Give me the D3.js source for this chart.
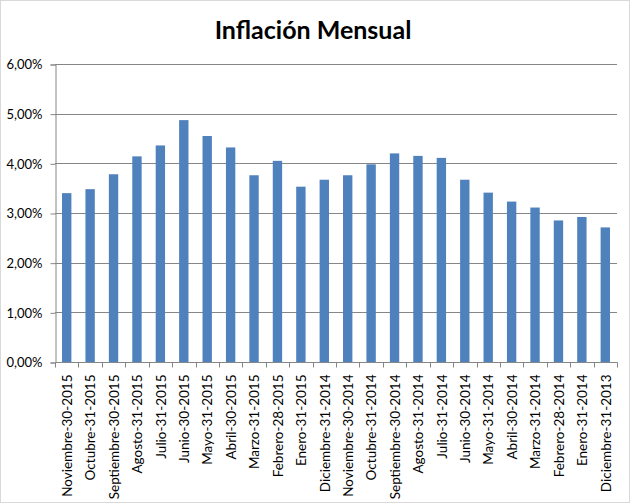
<!DOCTYPE html>
<html>
<head>
<meta charset="utf-8">
<script src="https://cdn.jsdelivr.net/npm/d3@7"></script>
<style>
  html, body { margin: 0; padding: 0; background: #fff; }
  svg { display: block; }
</style>
</head>
<body>
<svg id="chart" width="630" height="503"></svg>
<script>
const categories = [
  "Noviembre-30-2015", "Octubre-31-2015", "Septiembre-30-2015", "Agosto-31-2015",
  "Julio-31-2015", "Junio-30-2015", "Mayo-31-2015", "Abril-30-2015",
  "Marzo-31-2015", "Febrero-28-2015", "Enero-31-2015", "Diciembre-31-2014",
  "Noviembre-30-2014", "Octubre-31-2014", "Septiembre-30-2014", "Agosto-31-2014",
  "Julio-31-2014", "Junio-30-2014", "Mayo-31-2014", "Abril-30-2014",
  "Marzo-31-2014", "Febrero-28-2014", "Enero-31-2014", "Diciembre-31-2013"
];
const values = [
  3.40, 3.48, 3.78, 4.14, 4.36, 4.87, 4.55, 4.32,
  3.76, 4.05, 3.53, 3.67, 3.76, 3.98, 4.20, 4.15,
  4.11, 3.67, 3.41, 3.23, 3.11, 2.85, 2.92, 2.71
];
const yTicks = [0, 1, 2, 3, 4, 5, 6];
const title = "Inflación Mensual";

const svg = d3.select("#chart");
const W = 630, H = 503;
const m = { left: 55, right: 13, top: 64, bottom: 141 };
const font = "Lato, 'Open Sans', sans-serif";

svg.append("rect").attr("x", 0.5).attr("y", 0.5).attr("width", W - 1).attr("height", H - 1)
  .attr("fill", "#fff").attr("stroke", "#d9d9d9");

const x = d3.scaleBand().domain(categories).range([m.left, W - m.right]).paddingInner(0.6).paddingOuter(0.3);
const xb = d3.scaleBand().domain(categories).range([m.left, W - m.right]);
const y = d3.scaleLinear().domain([0, 6]).range([H - m.bottom, m.top]);

// gridlines
svg.append("g").selectAll("line").data(yTicks.filter(d => d > 0)).join("line")
  .attr("x1", m.left).attr("x2", W - m.right)
  .attr("y1", d => Math.round(y(d)) + 0.5).attr("y2", d => Math.round(y(d)) + 0.5)
  .attr("stroke", "#868686").attr("stroke-width", 1);

// bars
svg.append("g").selectAll("rect").data(values).join("rect")
  .attr("x", (d, i) => x(categories[i]))
  .attr("width", x.bandwidth())
  .attr("y", d => y(d))
  .attr("height", d => y(0) - y(d))
  .attr("fill", "#4f81bd");

// y axis
const yAxis = d3.axisLeft(y).tickValues(yTicks).tickSize(5).tickPadding(8)
  .tickFormat(d => d3.format(".2f")(d).replace(".", ",") + "%");
const gy = svg.append("g").attr("transform", `translate(${m.left + 0.5},0.5)`).call(yAxis);
gy.select(".domain").attr("stroke", "#868686");
gy.selectAll(".tick line").attr("stroke", "#868686");
gy.selectAll(".tick text").attr("font-family", font).attr("font-size", 13).attr("fill", "#000");

// x axis
const gx = svg.append("g").attr("transform", `translate(0.5,${Math.round(y(0)) + 0.5})`);
gx.append("line").attr("x1", m.left).attr("x2", W - m.right).attr("stroke", "#868686");
const bounds = categories.map(c => xb(c)).concat([W - m.right]);
gx.selectAll("line.tk").data(bounds).join("line").attr("class", "tk")
  .attr("x1", d => Math.round(d)).attr("x2", d => Math.round(d)).attr("y1", 0).attr("y2", 5)
  .attr("stroke", "#868686");
gx.selectAll("text").data(categories).join("text")
  .attr("transform", d => `translate(${xb(d) + xb.bandwidth() / 2},12) rotate(-90)`)
  .attr("text-anchor", "end").attr("dy", "0.35em")
  .attr("font-family", font).attr("font-size", 13.5).attr("fill", "#000")
  .text(d => d);

// title
svg.append("text").attr("x", 313).attr("y", 39).attr("text-anchor", "middle")
  .attr("font-family", font).attr("font-weight", "bold").attr("font-size", 25)
  .attr("fill", "#000").text(title);
</script>
</body>
</html>
